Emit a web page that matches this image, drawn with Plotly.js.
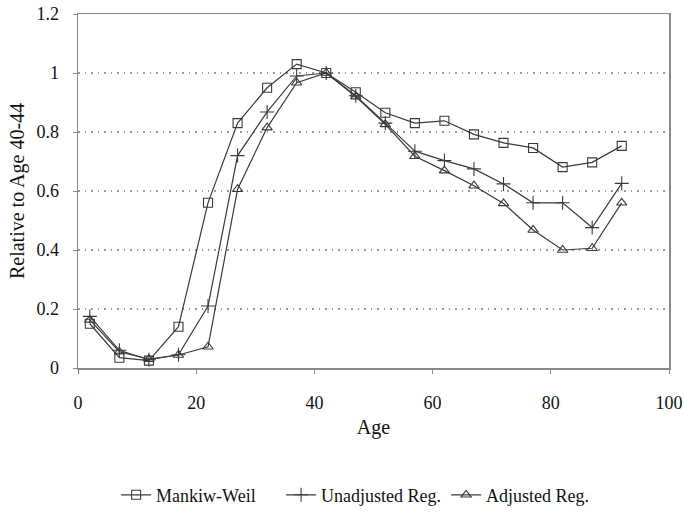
<!DOCTYPE html>
<html>
<head>
<meta charset="utf-8">
<script src="https://cdn.plot.ly/plotly-3.0.1.min.js"></script>
<style>html,body{margin:0;padding:0;background:#fff;}#chart{width:683px;height:512px;}</style>
</head>
<body>
<div id="chart"></div>
<script>
const ages = [2, 7, 12, 17, 22, 27, 32, 37, 42, 47, 52, 57, 62, 67, 72, 77, 82, 87, 92];
const mankiwWeil = [0.15, 0.035, 0.025, 0.14, 0.56, 0.83, 0.95, 1.03, 1.0, 0.935, 0.865, 0.83, 0.838, 0.792, 0.763, 0.746, 0.681, 0.697, 0.753];
const unadjusted = [0.175, 0.06, 0.028, 0.045, 0.21, 0.72, 0.868, 0.99, 1.0, 0.923, 0.83, 0.735, 0.703, 0.675, 0.624, 0.56, 0.56, 0.476, 0.626];
const adjusted = [0.163, 0.055, 0.03, 0.044, 0.072, 0.606, 0.815, 0.967, 1.0, 0.92, 0.826, 0.718, 0.669, 0.618, 0.558, 0.468, 0.40, 0.406, 0.56];
const seriesNames = ['Mankiw-Weil', 'Unadjusted Reg.', 'Adjusted Reg.'];
const xTicks = [0, 20, 40, 60, 80, 100];
const yTicks = [0, 0.2, 0.4, 0.6, 0.8, 1, 1.2];

const lineColor = '#3a3a3a';
function tr(y, name, sym, size) {
  return {
    x: ages, y: y, name: name, type: 'scatter', mode: 'lines+markers',
    line: {color: lineColor, width: 1.2},
    marker: {symbol: sym, size: size, color: lineColor, line: {color: lineColor, width: 1.1}}
  };
}
const data = [
  tr(mankiwWeil, seriesNames[0], 'square-open', 9),
  tr(unadjusted, seriesNames[1], 'cross-thin-open', 10),
  tr(adjusted, seriesNames[2], 'triangle-up-open', 9)
];
const font = {family: '"Liberation Serif", "Times New Roman", serif', color: '#111', size: 18};
const layout = {
  width: 683, height: 512,
  margin: {l: 78, r: 14, t: 14, b: 144, autoexpand: false},
  paper_bgcolor: '#fff', plot_bgcolor: '#fff',
  font: font,
  showlegend: true,
  legend: {orientation: 'h', xref: 'container', yref: 'container', x: 0.17, xanchor: 'left', y: 0.033, yanchor: 'middle', font: {size: 18, family: font.family, color: '#111'}, itemwidth: 30, entrywidth: 120},
  xaxis: {
    range: [0, 100], tickvals: xTicks, ticktext: xTicks.map(String),
    showline: true, mirror: true, linecolor: '#888', linewidth: 1.5,
    ticks: 'outside', ticklen: 4, tickcolor: '#888',
    showgrid: false, zeroline: false,
    ticklabelstandoff: 14,
    title: {text: 'Age', font: {size: 20}, standoff: 8}
  },
  yaxis: {
    range: [0, 1.2], tickvals: yTicks, ticktext: ['0', '0.2', '0.4', '0.6', '0.8', '1', '1.2'],
    showline: true, mirror: true, linecolor: '#888', linewidth: 1.5,
    ticks: 'outside', ticklen: 4, tickcolor: '#888',
    showgrid: true, gridcolor: '#999', griddash: '1.5px,5px', gridwidth: 1.5,
    zeroline: false,
    ticklabelstandoff: 10,
    title: {text: 'Relative to Age 40-44', font: {size: 20}, standoff: 6}
  }
};
Plotly.newPlot('chart', data, layout, {displayModeBar: false, staticPlot: true});
</script>
</body>
</html>
